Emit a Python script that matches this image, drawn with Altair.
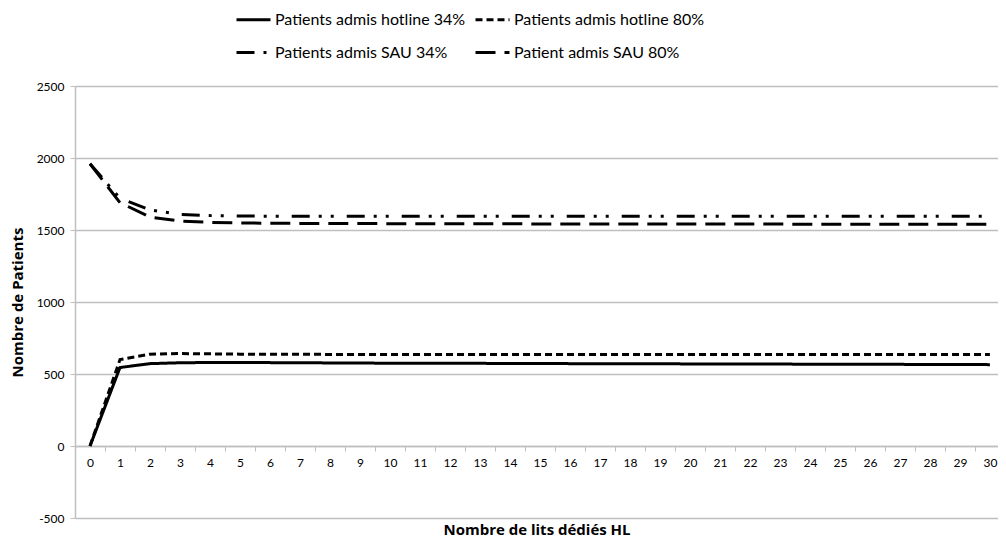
import altair as alt
import pandas as pd

lits = list(range(31))
hotline_34 = [0, 545, 572, 578, 580, 580, 579, 578, 577, 576, 575, 575, 574, 574, 573, 573,
              572, 572, 571, 571, 570, 570, 569, 569, 568, 568, 567, 567, 566, 566, 565]
hotline_80 = [0, 600, 638, 642, 640, 638, 637, 637, 636, 636, 636, 636, 636, 636, 636, 636,
              636, 636, 636, 636, 636, 636, 636, 636, 636, 636, 636, 636, 636, 636, 636]
sau_34 = [1960, 1720, 1640, 1608, 1600, 1597, 1596, 1595, 1595, 1595, 1595, 1595, 1595, 1595, 1595, 1595,
          1595, 1595, 1595, 1595, 1595, 1595, 1595, 1595, 1595, 1595, 1595, 1595, 1595, 1595, 1595]
sau_80 = [1960, 1690, 1590, 1562, 1553, 1549, 1547, 1546, 1545, 1545, 1544, 1544, 1543, 1543, 1543, 1542,
          1542, 1542, 1542, 1541, 1541, 1541, 1541, 1541, 1540, 1540, 1540, 1540, 1540, 1540, 1540]

series_names = ["Patients admis hotline 34%", "Patients admis hotline 80%",
                "Patients admis SAU 34%", "Patient admis SAU 80%"]
series_values = [hotline_34, hotline_80, sau_34, sau_80]
dashes = [[1, 0], [7, 4], [18, 9, 3, 9, 3, 13], [20, 9]]
y_ticks = [-500, 0, 500, 1000, 1500, 2000, 2500]

rows = []
for name, vals in zip(series_names, series_values):
    for x, v in zip(lits, vals):
        rows.append({"lits": x, "patients": v, "serie": name})
df = pd.DataFrame(rows)

FONT = "Lato"
TFONT = "Open Sans"
GRID = "#bfbfbf"

chart = alt.Chart(df).mark_line(strokeWidth=3, color="black").encode(
    x=alt.X("lits:Q",
            scale=alt.Scale(domain=[-0.5, 30.27], nice=False, zero=False),
            axis=alt.Axis(values=lits, title="Nombre de lits dédiés HL", offset=-72,
                          tickOffset=15, labelOffset=-15, grid=False,
                          domainColor=GRID, domainWidth=1.5, tickColor=GRID, tickSize=5,
                          labelFont=FONT, labelFontSize=12, labelColor="black", labelPadding=6,
                          labelFlush=False, labelOverlap=False,
                          titleFont=TFONT, titleFontSize=15, titleFontWeight="bold",
                          titleColor="black", titleY=91, titleBaseline="bottom")),
    y=alt.Y("patients:Q",
            scale=alt.Scale(domain=[-500, 2500], nice=False),
            axis=alt.Axis(values=y_ticks, title="Nombre de Patients",
                          labelExpr="'' + datum.value",
                          domainColor=GRID, domainWidth=1.5, gridColor=GRID, gridWidth=1.5,
                          tickColor=GRID, tickSize=5,
                          labelFont=FONT, labelFontSize=12, labelColor="black", labelPadding=6,
                          titleFont=TFONT, titleFontSize=15, titleFontWeight="bold",
                          titleColor="black", titlePadding=11)),
    strokeDash=alt.StrokeDash("serie:N",
                              scale=alt.Scale(domain=series_names, range=dashes),
                              legend=alt.Legend(title=None, orient="none", legendX=160, legendY=-85,
                                                columns=2, direction="horizontal",
                                                symbolType="stroke", symbolSize=1156,
                                                symbolStrokeWidth=3, symbolStrokeColor="black",
                                                labelFont=FONT, labelFontSize=16, labelColor="black",
                                                labelOffset=3, columnPadding=3, rowPadding=6,
                                                labelLimit=400)),
).properties(
    width=923, height=432,
    autosize=alt.AutoSizeParams(type="none"),
    padding={"left": 67, "top": 78, "right": 0, "bottom": 20},
).configure_view(stroke=None)

chart.save("out.html", embed_options={"renderer": "svg", "actions": False})
